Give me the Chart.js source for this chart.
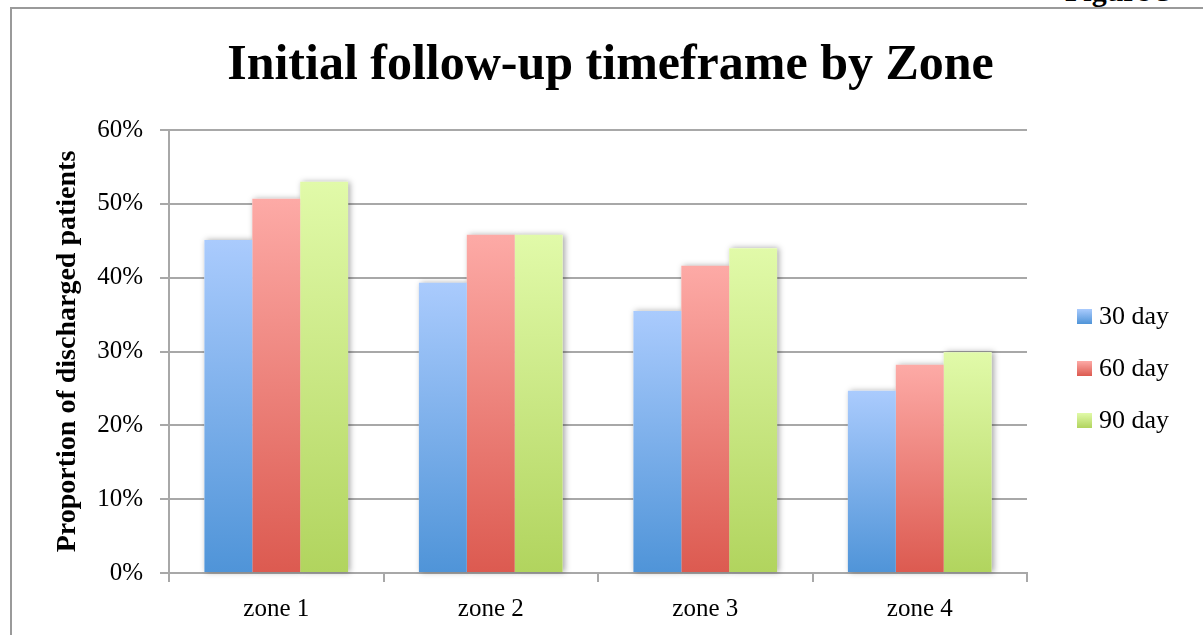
<!DOCTYPE html>
<html>
<head>
<meta charset="utf-8">
<script src="https://cdn.jsdelivr.net/npm/chart.js@4.4.1/dist/chart.umd.min.js"></script>
<style>
  html, body { margin: 0; padding: 0; background: #fff; }
  #wrap { position: relative; width: 1203px; height: 635px; overflow: hidden; font-family: "Liberation Serif", serif; }
  #frame { position: absolute; left: 10px; top: 7px; right: -5px; bottom: -5px; border-left: 2px solid #9a9a9a; border-top: 2px solid #9a9a9a; }
  #fig { position: absolute; left: 1065px; top: -24px; font-size: 30px; line-height: 30px; font-weight: bold; color: #000; }
  #legend { position: absolute; left: 1077px; top: 290px; }
  .item { display: flex; align-items: center; height: 52px; font-size: 26px; color: #000; }
  .box { width: 15px; height: 15px; margin-right: 7px; }
  canvas { position: absolute; left: 0; top: 0; }
</style>
</head>
<body>
<div id="wrap">
  <div id="frame"></div>
  <div id="fig">Figure 3</div>
  <canvas id="chart" width="1203" height="635"></canvas>
  <div id="legend"></div>
</div>
<script>
const zones = ["zone 1", "zone 2", "zone 3", "zone 4"];
const seriesNames = ["30 day", "60 day", "90 day"];
const day30 = [45.1, 39.3, 35.5, 24.7];
const day60 = [50.7, 45.8, 41.6, 28.2];
const day90 = [53.0, 45.8, 44.0, 29.9];
const yTicks = [0, 10, 20, 30, 40, 50, 60];

// light top / dark bottom, per series
const topColors = ["#aacbfd", "#fdaaa6", "#e1faa9"];
const bottomColors = ["#4f94d8", "#dc5a50", "#b1d45e"];
const gridGray = "#a8a8a8";
const serif = "'Liberation Serif', serif";

function barFill(i) {
  return ctx => {
    const chart = ctx.chart;
    const y = chart.scales.y;
    if (ctx.type !== "data" || !chart.chartArea || !y) return bottomColors[i];
    const top = y.getPixelForValue(ctx.raw);
    const base = y.getPixelForValue(0);
    if (!isFinite(top) || !isFinite(base) || base - top < 1) return bottomColors[i];
    const g = chart.ctx.createLinearGradient(0, top, 0, base);
    g.addColorStop(0, topColors[i]);
    g.addColorStop(1, bottomColors[i]);
    return g;
  };
}

// soft shadow behind every bar, drawn before the bars themselves
const barShadow = {
  id: "barShadow",
  beforeDatasetsDraw(chart) {
    const c = chart.ctx;
    c.save();
    c.shadowColor = "rgba(0,0,0,0.35)";
    c.shadowBlur = 6;
    c.shadowOffsetX = 2;
    c.shadowOffsetY = 0;
    c.fillStyle = "#fff";
    chart.getSortedVisibleDatasetMetas().forEach(meta => {
      meta.data.forEach(bar => {
        const p = bar.getProps(["x", "y", "base", "width"], true);
        c.fillRect(p.x - p.width / 2, p.y, p.width, p.base - p.y);
      });
    });
    c.restore();
  }
};

const seriesData = [day30, day60, day90];

new Chart(document.getElementById("chart"), {
  type: "bar",
  data: {
    labels: zones,
    datasets: seriesNames.map((name, i) => ({
      label: name,
      data: seriesData[i],
      backgroundColor: barFill(i),
      borderWidth: 0,
      categoryPercentage: 0.67,
      barPercentage: 1.0
    }))
  },
  options: {
    responsive: false,
    animation: false,
    layout: { padding: { left: 18, right: 0, top: 0, bottom: 12 } },
    plugins: {
      legend: { display: false },
      tooltip: { enabled: false },
      title: {
        display: true,
        text: "Initial follow-up timeframe by Zone",
        color: "#000",
        font: { family: serif, size: 50, weight: "bold" },
        padding: { top: 36, bottom: 34 }
      }
    },
    scales: {
      x: {
        grid: { display: true, drawOnChartArea: false, color: gridGray, lineWidth: 2, tickLength: 9, offset: true },
        border: { display: true, color: gridGray, width: 2 },
        ticks: { color: "#000", padding: 12, font: { family: serif, size: 25 } },
        afterFit(s) { s.height = 50; }
      },
      y: {
        min: 0,
        max: 60,
        afterBuildTicks(s) { s.ticks = yTicks.map(v => ({ value: v })); },
        grid: { color: gridGray, lineWidth: 2, tickLength: 9 },
        border: { display: true, color: gridGray, width: 2 },
        ticks: {
          color: "#000",
          padding: 17,
          font: { family: serif, size: 25 },
          callback: v => v + "%"
        },
        title: {
          display: true,
          text: "Proportion of discharged patients",
          color: "#000",
          font: { family: serif, size: 28, weight: "bold" },
          padding: { top: 33, bottom: 0 }
        },
        afterFit(s) { s.width = 151; }
      },
      // empty right-hand strip that leaves room for the legend
      gap: {
        type: "linear",
        position: "right",
        grid: { display: false },
        border: { display: false },
        ticks: { display: false },
        afterFit(s) { s.width = 176; }
      }
    }
  },
  plugins: [barShadow]
});

// legend built from the same series names and colours
const legend = document.getElementById("legend");
seriesNames.forEach((name, i) => {
  const item = document.createElement("div");
  item.className = "item";
  const box = document.createElement("span");
  box.className = "box";
  box.style.background = `linear-gradient(${topColors[i]}, ${bottomColors[i]})`;
  const label = document.createElement("span");
  label.textContent = name;
  item.append(box, label);
  legend.append(item);
});
</script>
</body>
</html>
